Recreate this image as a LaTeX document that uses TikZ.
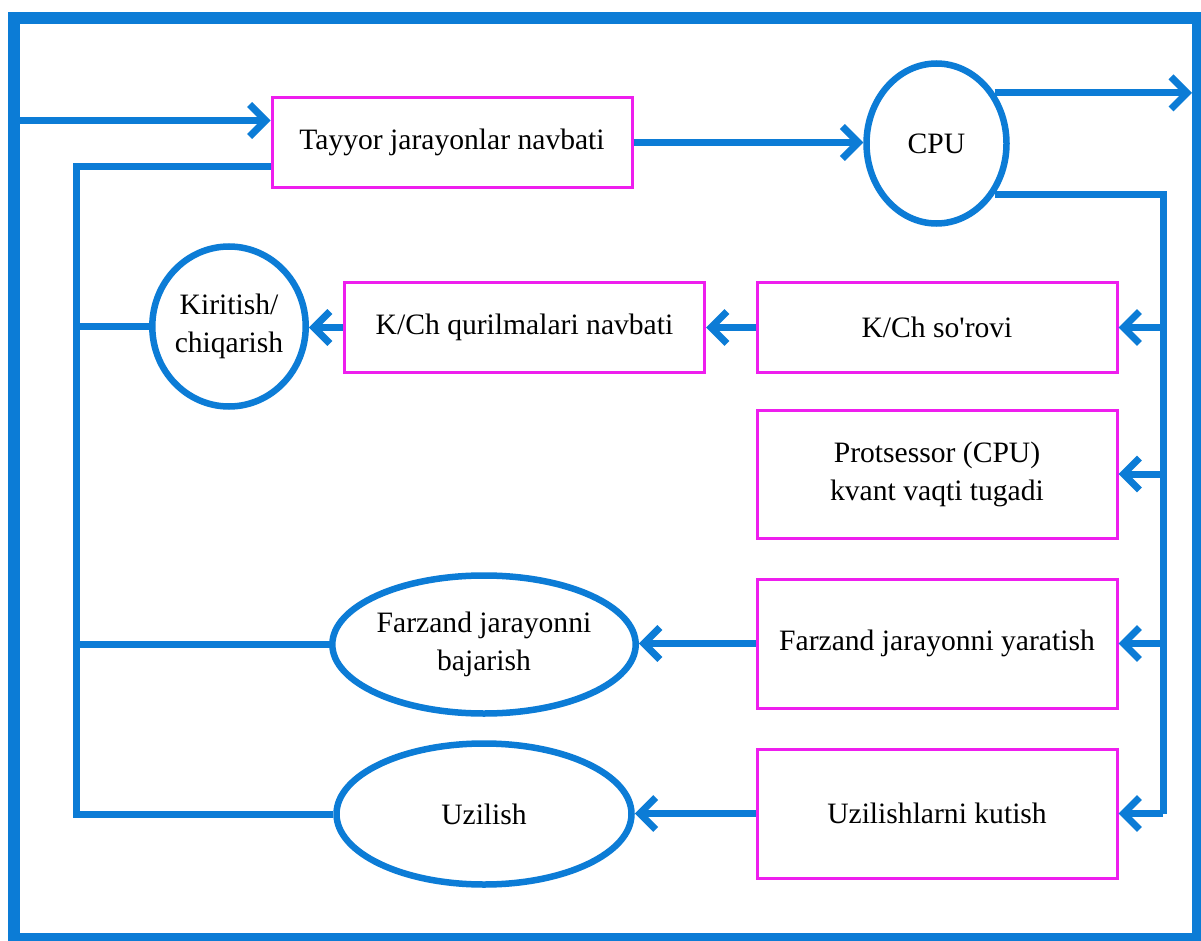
\documentclass[tikz,border=0pt]{standalone}
\usepackage{fontspec}
\setmainfont{Liberation Serif}[Ligatures=TeXOff]
\usetikzlibrary{shapes.geometric,arrows.meta}
\definecolor{flowblue}{RGB}{12,124,214}
\definecolor{boxpink}{RGB}{238,30,238}
\begin{document}
\begin{tikzpicture}[x=1pt,y=-1pt,
  every node/.style={font=\fontsize{29.6}{38}\selectfont, align=center, inner sep=0pt},
  qbox/.style={draw=boxpink, line width=3pt, rectangle, minimum width=360pt, minimum height=90pt},
  oval/.style={draw=flowblue, line width=6.5pt, ellipse},
  flow/.style={draw=flowblue, line width=7pt, line join=miter},
  arr/.style={flow, -{Straight Barb[length=16pt,width=32pt]}},
]
\useasboundingbox (0,0) rectangle (1201,941);
\begin{scope}
  \clip (0,0) rectangle (1201,941);
  \fill[white] (0,0) rectangle (1201,941);
  % outer frame
  \draw[flowblue, line width=12pt] (14,18.5) rectangle (1198,939);
\end{scope}

% guide coordinates
\coordinate (lb) at (14,0);
\coordinate (rb) at (1192,0);
\coordinate (lbus) at (76,0);
\coordinate (rbus) at (1163,0);

% nodes
\node[qbox] (tay) at (452,142.5) {Tayyor jarayonlar navbati};
\node[oval, minimum width=140pt, minimum height=160pt] (cpu) at (936.5,143.5) {CPU};
\node[oval, minimum width=141pt, minimum height=160pt] (kir) at (229,326.5) {Kiritish/\\chiqarish};
\node[qbox] (kqn) at (524.5,327.5) {K/Ch qurilmalari navbati};
\node[qbox] (kso) at (937,327.5) {K/Ch so'rovi};
\node[qbox, minimum height=128pt] (pro) at (937,474) {Protsessor (CPU)\\kvant vaqti tugadi};
\node[qbox, minimum height=129pt] (fjy) at (937,643.5) {Farzand jarayonni yaratish};
\node[qbox, minimum height=129pt] (uzk) at (937,813.5) {Uzilishlarni kutish};
\node[oval, minimum width=295pt, minimum height=138pt] (fjb) at (484,644.5) {Farzand jarayonni\\bajarish};
\node[oval, minimum width=295pt, minimum height=141pt] (uzl) at (484,814) {Uzilish};

\coordinate (tayin) at ([yshift=22pt]tay.west);
\coordinate (tayout) at ([yshift=-24.5pt]tay.west);

% incoming arrow and queue to CPU
\draw[arr] (tayin -| lb) -- (tayin);
\draw[arr] (tay.east) -- (tay.east -| cpu.west);
\draw[arr] (cpu.41) -- (cpu.41 -| rb);

% right-hand bus from CPU
\draw[flow] (cpu.-41) -| (rbus |- uzk.east);
\draw[arr] (rbus |- kso.east) -- (kso.east);
\draw[arr] (rbus |- pro.east) -- (pro.east);
\draw[arr] (rbus |- fjy.east) -- (fjy.east);
\draw[arr] (rbus |- uzk.east) -- (uzk.east);

% events to handlers
\draw[arr] (kso.west) -- (kqn.east);
\draw[arr] (kqn.west) -- (kqn.west -| kir.east);
\draw[arr] (fjy.west) -- (fjy.west -| fjb.east);
\draw[arr] (uzk.west) -- (uzk.west -| uzl.east);

% return bus to the ready queue
\draw[flow] (tayout) -| (lbus |- uzl.west) -- (uzl.west);
\draw[flow] (kir.west) -- (kir.west -| lbus);
\draw[flow] (fjb.west) -- (fjb.west -| lbus);
\end{tikzpicture}
\end{document}
